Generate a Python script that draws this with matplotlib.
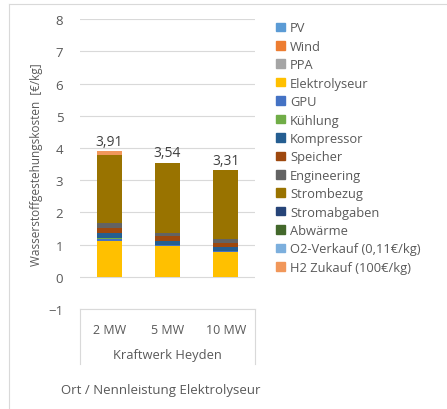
import matplotlib.pyplot as plt
import numpy as np
from matplotlib.patches import Rectangle
from matplotlib.lines import Line2D

plt.rcParams['font.family'] = ['Open Sans', 'DejaVu Sans']

sites = ['2 MW', '5 MW', '10 MW']
group = 'Kraftwerk Heyden'
totals = [3.91, 3.54, 3.31]

components = ['PV', 'Wind', 'PPA', 'Elektrolyseur', 'GPU', 'Kühlung', 'Kompressor',
              'Speicher', 'Engineering', 'Strombezug', 'Stromabgaben', 'Abwärme',
              'O2-Verkauf (0,11€/kg)', 'H2 Zukauf (100€/kg)']
colors = ['#5B9BD5', '#ED7D31', '#A5A5A5', '#FFC000', '#4472C4', '#70AD47', '#255E91',
          '#9E480E', '#636363', '#997300', '#264478', '#43682B', '#7CAFDD', '#F1975A']

# values per component for 2 MW, 5 MW, 10 MW
pv = [0.0, 0.0, 0.0]
wind = [0.0, 0.0, 0.0]
ppa = [0.0, 0.0, 0.0]
elektrolyseur = [1.12, 0.95, 0.76]
gpu = [0.05, 0.04, 0.03]
kuehlung = [0.02, 0.01, 0.01]
kompressor = [0.18, 0.12, 0.11]
speicher = [0.15, 0.14, 0.15]
engineering = [0.15, 0.10, 0.12]
strombezug = [2.10, 2.18, 2.13]
stromabgaben = [0.0, 0.0, 0.0]
abwaerme = [0.0, 0.0, 0.0]
o2_verkauf = [0.0, 0.0, 0.0]
h2_zukauf = [0.14, 0.0, 0.0]

series = [pv, wind, ppa, elektrolyseur, gpu, kuehlung, kompressor, speicher,
          engineering, strombezug, stromabgaben, abwaerme, o2_verkauf, h2_zukauf]

fig = plt.figure(figsize=(4.47, 4.10), dpi=100)
ax = fig.add_axes([0.179, 0.244, 0.391, 0.707])

x = np.arange(len(sites))
bottom = np.zeros(len(sites))
for vals, col, name in zip(series, colors, components):
    ax.bar(x, vals, 0.43, bottom=bottom, color=col, label=name, zorder=3)
    bottom += np.array(vals)

for xi, t in zip(x, totals):
    ax.text(xi, t + 0.07, f'{t:.2f}'.replace('.', ','), ha='center', va='bottom',
            fontsize=10, color='#404040')

ax.set_xlim(-0.5, 2.5)
ax.set_ylim(-1, 8)
ax.set_yticks(range(-1, 9))
ax.grid(axis='y', color='#D9D9D9', linewidth=0.8, zorder=0)
for s in ax.spines.values():
    s.set_visible(False)
ax.tick_params(axis='y', length=0, labelsize=9.5, labelcolor='#595959', pad=12)
ax.set_xticks([])
ax.set_ylabel('Wasserstoffgestehungskosten  [€/kg]', fontsize=8.5, color='#595959', labelpad=4)

# category labels below the axis
for xi, s in zip(x, sites):
    ax.text(xi, -1.65, s, ha='center', va='center', fontsize=9, color='#595959')
ax.text(1, -2.4, group, ha='center', va='center', fontsize=9.3, color='#595959')
box = dict(color='#D9D9D9', linewidth=0.8, clip_on=False)
ax.plot([-0.5, -0.5], [-1, -2.7], **box)
ax.plot([2.5, 2.5], [-1, -2.7], **box)
ax.plot([-0.5, 2.5], [-1, -1], **box)
fig.text(0.36, 0.048, 'Ort / Nennleistung Elektrolyseur', ha='center', va='center',
         fontsize=9.5, color='#595959')

handles = [Rectangle((0, 0), 1, 1, color=c) for c in colors]
leg = fig.legend(handles, components, loc='upper left', bbox_to_anchor=(0.607, 0.958),
                 frameon=False, fontsize=9.3, handlelength=0.65, handleheight=0.65,
                 handletextpad=0.4, labelspacing=0.42, borderaxespad=0)
for t in leg.get_texts():
    t.set_color('#595959')

# outer chart border
fig.add_artist(Line2D([9 / 447, 9 / 447], [0, 1 - 5 / 410], color='#D9D9D9', linewidth=0.8))
fig.add_artist(Line2D([9 / 447, 1], [1 - 5 / 410, 1 - 5 / 410], color='#D9D9D9', linewidth=0.8))

fig.savefig('out.png', dpi=100)
